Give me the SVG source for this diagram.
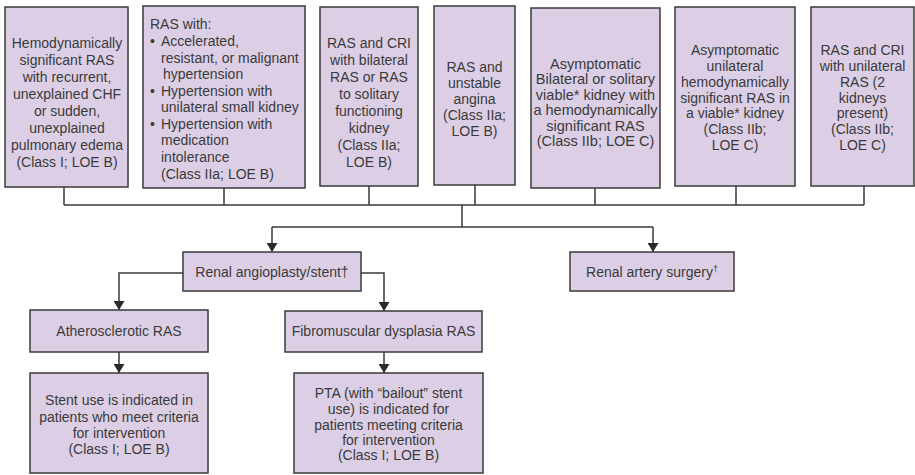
<svg xmlns="http://www.w3.org/2000/svg" width="915" height="475" viewBox="0 0 915 475">
<style>
.box{fill:#dccfe5;stroke:#3a3a3a;stroke-width:1.5}
text{font-family:"Liberation Sans",Arial,sans-serif;font-size:14px;fill:#3a3a3a}
.c{text-anchor:middle}
.ln{fill:none;stroke:#3a3a3a;stroke-width:1.5}
</style>
<defs>
<marker id="ad" markerUnits="userSpaceOnUse" markerWidth="11" markerHeight="10" refX="5.5" refY="9" viewBox="0 0 11 9" orient="0">
<path d="M0,0 L11,0 L5.5,9 Z" fill="#2a2a2a"/>
</marker>
</defs>
<g id="connectors">
<path class="ln" d="M64,187 V205 M224,188 V205 M369,186 V205 M475,185 V205 M595,188 V205 M736,186 V205 M864,186 V205 M64,205 H864 M462,205 V227 M272,227 H653"/>
<path class="ln" d="M272,227 V252" marker-end="url(#ad)"/>
<path class="ln" d="M653,227 V252" marker-end="url(#ad)"/>
<path class="ln" d="M183,273 H119 V310" marker-end="url(#ad)"/>
<path class="ln" d="M361,273 H384 V311" marker-end="url(#ad)"/>
<path class="ln" d="M119,352 V373" marker-end="url(#ad)"/>
<path class="ln" d="M384,352 V373" marker-end="url(#ad)"/>
</g>
<g id="n1">
<rect class="box" x="5" y="7" width="123" height="180"/>
<text class="c" x="67"><tspan x="67" y="48">Hemodynamically</tspan><tspan x="67" y="65">significant RAS</tspan><tspan x="67" y="82">with recurrent,</tspan><tspan x="67" y="99">unexplained CHF</tspan><tspan x="67" y="116">or sudden,</tspan><tspan x="67" y="133">unexplained</tspan><tspan x="67" y="150">pulmonary edema</tspan><tspan x="67" y="167">(Class I; LOE B)</tspan></text>
</g>
<g id="n2">
<rect class="box" x="143" y="6" width="162" height="182"/>
<text><tspan x="150" y="29">RAS with:</tspan><tspan x="150" y="46">•</tspan><tspan x="161" y="46">Accelerated,</tspan><tspan x="161" y="62.5">resistant, or malignant</tspan><tspan x="163" y="79">hypertension</tspan><tspan x="150" y="95.5">•</tspan><tspan x="161" y="95.5">Hypertension with</tspan><tspan x="161" y="112">unilateral small kidney</tspan><tspan x="150" y="128.5">•</tspan><tspan x="161" y="128.5">Hypertension with</tspan><tspan x="161" y="145">medication</tspan><tspan x="161" y="161.5">intolerance</tspan><tspan x="161" y="179">(Class IIa; LOE B)</tspan></text>
</g>
<g id="n3">
<rect class="box" x="320" y="7" width="98" height="179"/>
<text class="c"><tspan x="369" y="48">RAS and CRI</tspan><tspan x="369" y="65">with bilateral</tspan><tspan x="369" y="82">RAS or RAS</tspan><tspan x="369" y="99">to solitary</tspan><tspan x="369" y="116">functioning</tspan><tspan x="369" y="133">kidney</tspan><tspan x="369" y="150">(Class IIa;</tspan><tspan x="369" y="167">LOE B)</tspan></text>
</g>
<g id="n4">
<rect class="box" x="434" y="6" width="81" height="179"/>
<text class="c"><tspan x="474.5" y="72">RAS and</tspan><tspan x="474.5" y="88">unstable</tspan><tspan x="474.5" y="104">angina</tspan><tspan x="474.5" y="120">(Class IIa;</tspan><tspan x="474.5" y="136">LOE B)</tspan></text>
</g>
<g id="n5">
<rect class="box" x="531" y="8" width="129" height="180"/>
<text class="c" style="font-size:14.5px"><tspan x="595.5" y="68.5">Asymptomatic</tspan><tspan x="595.5" y="84">Bilateral or solitary</tspan><tspan x="595.5" y="99.5">viable* kidney with</tspan><tspan x="595.5" y="115">a hemodynamically</tspan><tspan x="595.5" y="130.5">significant RAS</tspan><tspan x="595.5" y="146">(Class IIb; LOE C)</tspan></text>
</g>
<g id="n6">
<rect class="box" x="675" y="7" width="120" height="179"/>
<text class="c"><tspan x="735" y="55">Asymptomatic</tspan><tspan x="735" y="71">unilateral</tspan><tspan x="735" y="87">hemodynamically</tspan><tspan x="735" y="102.5">significant RAS in</tspan><tspan x="735" y="118">a viable* kidney</tspan><tspan x="735" y="134">(Class IIb;</tspan><tspan x="735" y="150">LOE C)</tspan></text>
</g>
<g id="n7">
<rect class="box" x="811" y="7" width="103" height="179"/>
<text class="c"><tspan x="862.5" y="55">RAS and CRI</tspan><tspan x="862.5" y="71">with unilateral</tspan><tspan x="862.5" y="87">RAS (2</tspan><tspan x="862.5" y="102.5">kidneys</tspan><tspan x="862.5" y="118">present)</tspan><tspan x="862.5" y="134">(Class IIb;</tspan><tspan x="862.5" y="150">LOE C)</tspan></text>
</g>
<g id="n8">
<rect class="box" x="183" y="252" width="178" height="39"/>
<text class="c" x="272" y="277">Renal angioplasty/stent†</text>
</g>
<g id="n9">
<rect class="box" x="570" y="252" width="164" height="39"/>
<text class="c" x="652" y="277">Renal artery surgery<tspan font-size="9px" dy="-5">†</tspan></text>
</g>
<g id="n10">
<rect class="box" x="30" y="310" width="178" height="42"/>
<text class="c" x="119" y="336">Atherosclerotic RAS</text>
</g>
<g id="n11">
<rect class="box" x="285" y="311" width="197" height="41"/>
<text class="c" x="383.5" y="336">Fibromuscular dysplasia RAS</text>
</g>
<g id="n12">
<rect class="box" x="30" y="373" width="178" height="100"/>
<text class="c"><tspan x="119" y="405">Stent use is indicated in</tspan><tspan x="119" y="421.5">patients who meet criteria</tspan><tspan x="119" y="438">for intervention</tspan><tspan x="119" y="454">(Class I; LOE B)</tspan></text>
</g>
<g id="n13">
<rect class="box" x="294" y="373" width="189" height="100"/>
<text class="c"><tspan x="388.5" y="398">PTA (with “bailout” stent</tspan><tspan x="388.5" y="414">use) is indicated for</tspan><tspan x="388.5" y="430">patients meeting criteria</tspan><tspan x="388.5" y="445">for intervention</tspan><tspan x="388.5" y="460">(Class I; LOE B)</tspan></text>
</g>
</svg>
